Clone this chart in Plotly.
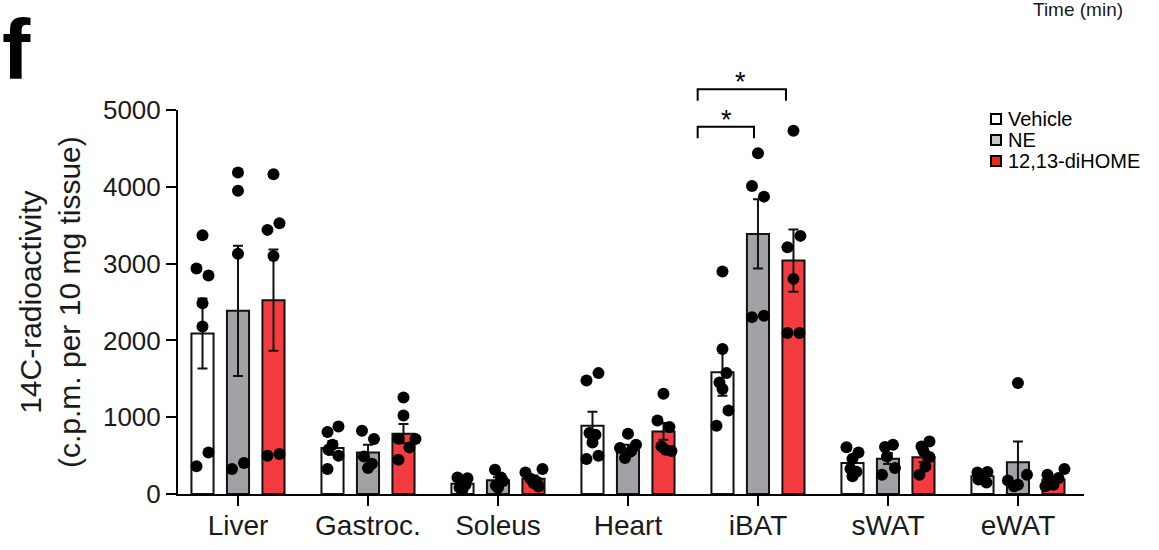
import plotly.graph_objects as go

# ---------------- data ----------------
categories = ["Liver", "Gastroc.", "Soleus", "Heart", "iBAT", "sWAT", "eWAT"]
series_names = ["Vehicle", "NE", "12,13-diHOME"]

vehicle_mean = [2090, 600, 135, 890, 1585, 405, 230]
vehicle_sem = [455, 90, 30, 180, 305, 60, 30]
ne_mean = [2385, 540, 178, 565, 3387, 460, 412]
ne_sem = [848, 100, 40, 75, 450, 70, 270]
dihome_mean = [2524, 785, 200, 815, 3040, 480, 190]
dihome_sem = [660, 125, 40, 110, 405, 65, 35]

vehicle_points = [
    [3370, 2935, 2845, 2485, 2180, 540, 360],
    [807, 880, 641, 576, 498, 325],
    [215, 205, 150, 120, 80, 60],
    [1478, 1574, 793, 771, 671, 498, 455],
    [2896, 1887, 1574, 1452, 1366, 1088, 889],
    [610, 540, 460, 330, 290, 230],
    [280, 285, 240, 190, 150],
]
ne_points = [
    [4185, 3950, 3127, 325, 403],
    [823, 716, 489, 394, 338],
    [316, 215, 170, 110, 80],
    [785, 598, 641, 555, 468],
    [4437, 4011, 3872, 2303, 2320],
    [611, 641, 489, 338, 251],
    [1444, 177, 121, 251, 100],
]
dihome_points = [
    [4163, 3526, 3439, 3100, 498, 520],
    [1257, 1023, 720, 716, 607, 446],
    [281, 325, 200, 164, 143, 99],
    [1305, 958, 871, 620, 576, 560],
    [4731, 3361, 3214, 2801, 2095, 2095],
    [684, 620, 560, 481, 359, 251],
    [251, 325, 164, 208, 121, 100],
]

# significance brackets (iBAT): comparison levels in data units
bracket_outer = 5269
bracket_inner = 4783
bracket_leg = 150

# ---------------- style / layout ----------------
FONT = "Liberation Sans, Arial, Helvetica, sans-serif"
PX = 1 / 130.0  # one pixel in x data units
BAR_W = 0.17
OFFS = [-0.273, 0.0, 0.273]
FILL = ["#ffffff", "#a2a2a6", "#f43c40"]
LEG_FILL = ["#ffffff", "#c6c6c6", "#ee2a12"]

# dot jitter (pixels) for readability of overlapping points
jit = [
    [[0, -6, 6, 0, 0, 6, -6], [-5, 6, 0, -4, 6, -5], [-5, 5, 0, 3, -3, 0],
     [-6, 6, -3, 3, 0, 6, -6], [0, 0, 4, -3, 0, 6, -6], [-6, 6, 0, -2, 4, 0],
     [-5, 5, 0, -4, 4]],
    [[0, 0, 0, -6, 6], [-6, 6, -4, 4, 0], [-3, 3, 5, -2, 0], [0, -8, 8, 3, -3],
     [0, -6, 6, -6, 6], [-3, 5, -1, 7, -6], [0, -10, 0, 9, -4]],
    [[0, 6, -6, 0, -6, 6], [0, 0, -5, 12, 6, -5], [-8, 9, -3, 3, 0, 5],
     [0, -6, 6, -2, 2, 8], [0, 7, -6, 0, -6, 6], [6, -2, 0, 6, 2, -4],
     [-6, 11, -2, 5, 0, -8]],
]

means = [vehicle_mean, ne_mean, dihome_mean]
sems = [vehicle_sem, ne_sem, dihome_sem]
points = [vehicle_points, ne_points, dihome_points]

fig = go.Figure()
idx = list(range(len(categories)))

for s in range(3):
    fig.add_trace(go.Bar(
        x=[i + OFFS[s] for i in idx], y=means[s], width=BAR_W,
        name=series_names[s], showlegend=False,
        marker=dict(color=FILL[s], line=dict(color="#111111", width=2)),
        error_y=dict(type="data", array=sems[s], visible=True,
                     color="#111111", thickness=2, width=5),
    ))

for s in range(3):
    xs, ys = [], []
    for i in idx:
        for k, v in enumerate(points[s][i]):
            xs.append(i + OFFS[s] + jit[s][i][k] * PX)
            ys.append(v)
    fig.add_trace(go.Scatter(
        x=xs, y=ys, mode="markers", showlegend=False, cliponaxis=False,
        marker=dict(color="black", size=12, line=dict(width=0)),
    ))

L, R, T, B = 178, 75, 110, 56
W, H = 1159, 550
pw, ph = W - L - R, H - T - B
YMAX = 5000.0


def px_x(p):
    return (p - L) / pw


def px_y(p):
    return (H - B - p) / ph


shapes = []


def bracket(x0, x1, level):
    yt = level / YMAX
    yb = (level - bracket_leg) / YMAX
    return dict(type="path", xref="x", yref="paper",
                path=f"M {x0} {yb} L {x0} {yt} L {x1} {yt} L {x1} {yb}",
                line=dict(color="black", width=2))


x_left = 4 + (697.7 - 758) * PX
shapes.append(bracket(x_left, 4 + (786 - 758) * PX, bracket_outer))
shapes.append(bracket(x_left, 4 + (754 - 758) * PX, bracket_inner))

annotations = [
    dict(text="*", x=4 + (741 - 758) * PX, xref="x", y=px_y(82),
         yref="paper", showarrow=False, font=dict(size=27, family=FONT, color="black"),
         yanchor="middle"),
    dict(text="*", x=4 + (727 - 758) * PX, xref="x", y=px_y(120),
         yref="paper", showarrow=False, font=dict(size=27, family=FONT, color="black"),
         yanchor="middle"),
]

annotations.append(dict(
    text="14C-radioactivity<br>(c.p.m. per 10 mg tissue)", textangle=-90,
    x=px_x(50), y=px_y(302), xref="paper", yref="paper", xanchor="center", yanchor="middle",
    showarrow=False, font=dict(size=30, family=FONT, color="#1a1a1a")))

annotations.append(dict(
    text="<b>f</b>", x=px_x(0), y=px_y(0), xref="paper", yref="paper",
    xanchor="left", yanchor="top", showarrow=False,
    font=dict(size=85, family=FONT, color="black")))

annotations.append(dict(
    text="Time (min)", x=px_x(1078), y=px_y(9), xref="paper", yref="paper",
    xanchor="center", yanchor="middle", showarrow=False,
    font=dict(size=19, family=FONT, color="#1a1a1a")))

leg_y = [119, 140, 161]
for s in range(3):
    cy = leg_y[s]
    shapes.append(dict(type="rect", xref="paper", yref="paper",
                       x0=px_x(991), x1=px_x(1001), y0=px_y(cy + 5), y1=px_y(cy - 5),
                       fillcolor=LEG_FILL[s], line=dict(color="black", width=2)))
    annotations.append(dict(
        text=series_names[s], x=px_x(1006), y=px_y(cy), xref="paper", yref="paper",
        xanchor="left", yanchor="middle", showarrow=False,
        font=dict(size=20, family=FONT, color="black")))

fig.update_layout(
    width=W, height=H, margin=dict(l=L, r=R, t=T, b=B, autoexpand=False),
    paper_bgcolor="white", plot_bgcolor="white",
    barmode="overlay", showlegend=False,
    shapes=shapes, annotations=annotations,
    font=dict(family=FONT, color="#1a1a1a"),
    xaxis=dict(range=[-0.4615, 6.508], tickvals=idx, ticktext=categories,
               automargin=False, ticklabelstandoff=-5,
               showline=True, linecolor="black", linewidth=2, ticks="outside",
               ticklen=10, tickwidth=2, tickcolor="black", showgrid=False,
               zeroline=False, tickfont=dict(size=28, family=FONT, color="#1a1a1a")),
    yaxis=dict(range=[0, YMAX], tickvals=[0, 1000, 2000, 3000, 4000, 5000],
               automargin=False,
               showline=True, linecolor="black", linewidth=2, ticks="outside",
               ticklen=10, tickwidth=2, tickcolor="black", showgrid=False,
               zeroline=False, tickfont=dict(size=26, family=FONT, color="#1a1a1a")),
)

fig.write_html("out.html")
